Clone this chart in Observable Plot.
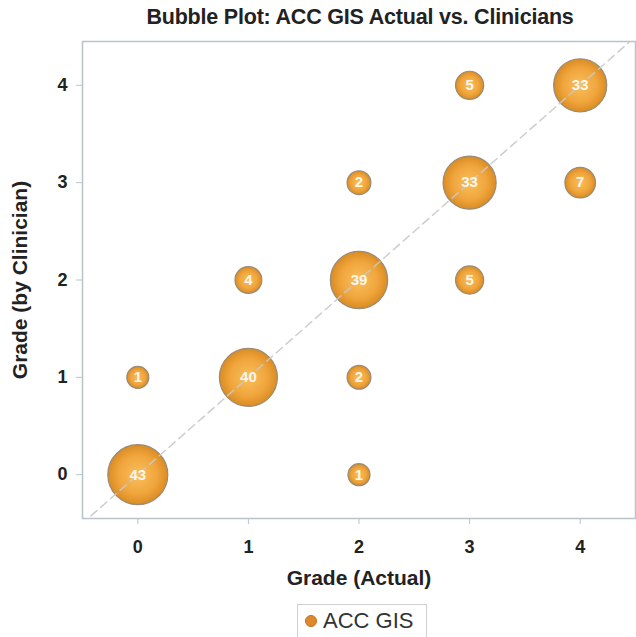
<!DOCTYPE html>
<html><head><meta charset="utf-8">
<script src="https://cdn.jsdelivr.net/npm/d3@7"></script>
<script src="https://cdn.jsdelivr.net/npm/@observablehq/plot@0.6"></script>
<style>
body{margin:0;background:#fff;font-family:"Liberation Sans",Arial,sans-serif;}
#wrap{position:relative;width:636px;height:637px;overflow:hidden;}
#title{position:absolute;left:82px;width:556px;top:5px;text-align:center;font-weight:bold;font-size:21.5px;color:#222;letter-spacing:-0.2px;}
#chart{position:absolute;left:0;top:40px;}
#legend{position:absolute;left:297px;top:604px;width:130px;height:36px;border:1px solid #d0d0d0;box-sizing:border-box;font-size:22px;color:#333;}
#legend .dot{position:absolute;left:7px;top:10px;width:10px;height:10px;border-radius:50%;background:#e0892a;border:1px solid #c07020;}
#legend .lab{position:absolute;left:25px;top:3px;}
</style></head><body>
<div id="wrap">
<div id="title">Bubble Plot: ACC GIS Actual vs. Clinicians</div>
<div id="chart"></div>
<div id="legend"><span class="dot"></span><span class="lab">ACC GIS</span></div>
</div>
<script>
const actual    = [0, 0, 1, 1, 2, 2, 2, 2, 3, 3, 3, 4, 4];
const clinician = [0, 1, 1, 2, 0, 1, 2, 3, 2, 3, 4, 3, 4];
const counts    = [43, 1, 40, 4, 1, 2, 39, 2, 5, 33, 5, 7, 33];
const gradeTicks = [0, 1, 2, 3, 4];
const xLabel = "Grade (Actual)";
const yLabel = "Grade (by Clinician)";
const seriesName = "ACC GIS";

const data = actual.map((a, i) => ({actual: a, clinician: clinician[i], n: counts[i]}));
const diag = [{v: -0.6}, {v: 4.6}];

const plot = Plot.plot({
  width: 636,
  height: 560,
  marginLeft: 82,
  marginRight: 1,
  marginTop: 1,
  marginBottom: 82,
  style: {fontFamily: "Liberation Sans, Arial, sans-serif", background: "white", color: "#333"},
  x: {domain: [-0.5, 4.5]},
  y: {domain: [-0.45, 4.45]},
  r: {type: "pow", exponent: 0.7, domain: [1, 43], range: [11, 30]},
  marks: [
    Plot.axisX(gradeTicks, {tickSize: 6, tickPadding: 16, stroke: "#b9c3ca", fontSize: 18, fontWeight: "bold", fill: "#222",
      tickFormat: d3.format("d"), label: null}),
    Plot.axisY(gradeTicks, {tickSize: 6, tickPadding: 9, stroke: "#b9c3ca", fontSize: 18, fontWeight: "bold", fill: "#222",
      tickFormat: d3.format("d"), label: null}),
    Plot.text([xLabel], {frameAnchor: "bottom", dy: 60, text: d => d, fontSize: 21, fontWeight: "bold", fill: "#222", lineAnchor: "middle", textAnchor: "middle"}),
    Plot.text([yLabel], {frameAnchor: "left", dx: -62, text: d => d, rotate: -90, fontSize: 21, fontWeight: "bold", fill: "#222", lineAnchor: "middle", textAnchor: "middle"}),
    Plot.frame({stroke: "#b9c3ca", strokeWidth: 1.5}),
    Plot.dot(data, {x: "actual", y: "clinician", r: "n", fill: "url(#bubGrad)", stroke: "#9a8a78", strokeWidth: 1.2}),
    Plot.line(diag, {x: "v", y: "v", stroke: "#c8c8c8", strokeWidth: 1.5, strokeDasharray: "8,5", clip: true, strokeOpacity: 0.9}),
    Plot.text(data, {x: "actual", y: "clinician", text: d => String(d.n), fill: "white", fontSize: 15, fontWeight: "bold", fillOpacity: 0.9})
  ]
});

const svg = d3.select(plot);
const defs = svg.insert("defs", ":first-child");
const g = defs.append("radialGradient").attr("id", "bubGrad").attr("cx", "50%").attr("cy", "50%").attr("r", "50%");
g.append("stop").attr("offset", "0%").attr("stop-color", "#f9bf5c");
g.append("stop").attr("offset", "65%").attr("stop-color", "#f0a53c");
g.append("stop").attr("offset", "100%").attr("stop-color", "#d98c22");

document.getElementById("chart").appendChild(plot);
</script>
</body></html>
